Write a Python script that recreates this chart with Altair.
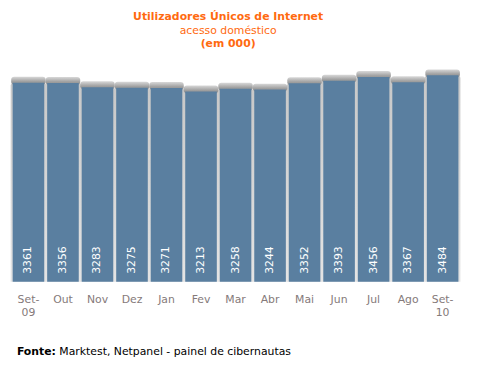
import altair as alt
import pandas as pd

months = ["Set-\n09", "Out", "Nov", "Dez", "Jan", "Fev", "Mar", "Abr", "Mai", "Jun", "Jul", "Ago", "Set-\n10"]
values = [3361, 3356, 3283, 3275, 3271, 3213, 3258, 3244, 3352, 3393, 3456, 3367, 3484]
title_main = "Utilizadores Únicos de Internet"
title_sub = "acesso doméstico"
title_unit = "(em 000)"
source_bold = "Fonte:"
source_text = "Marktest, Netpanel - painel de cibernautas"

df = pd.DataFrame({"m": months, "v": values})

FONT = "DejaVu Sans"
ORANGE = "#ff6a10"
BLUE = "#5a7fa0"

x = alt.X("m:N", sort=months, axis=None,
          scale=alt.Scale(paddingInner=0.084, paddingOuter=0.02))
y = alt.Y("v:Q", axis=None, scale=alt.Scale(domain=[0, 3600], nice=False))

base = alt.Chart(df)

side_grad = alt.LinearGradient(gradient="linear", x1=0, y1=0, x2=0, y2=1,
                               stops=[alt.GradientStop(offset=0, color="#c8c8c8"),
                                      alt.GradientStop(offset=1, color="#e4e4e4")])
top_grad = alt.LinearGradient(gradient="linear", x1=0, y1=0, x2=0, y2=1,
                              stops=[alt.GradientStop(offset=0, color="#d8d8d8"),
                                     alt.GradientStop(offset=0.6, color="#a0a0a0"),
                                     alt.GradientStop(offset=1, color="#8e8e8e")])

side = base.mark_bar(size=36, color=side_grad, cornerRadiusTopLeft=3, cornerRadiusTopRight=3).encode(
    x=x, y=y, y2=alt.datum(0))
top = base.mark_bar(size=35, color=top_grad, cornerRadius=3, yOffset=-6, y2Offset=2).encode(
    x=x, y=y, y2="v:Q")
bars = base.mark_bar(size=32, color=BLUE).encode(x=x, y=y, y2=alt.datum(0))

vals = base.mark_text(angle=270, align="left", baseline="middle", color="white",
                      font=FONT, fontSize=11, yOffset=-8).encode(
    x=x, y=alt.datum(0), text="v:Q")

xlab = base.mark_text(align="center", baseline="alphabetic", color="#857a7a",
                      font=FONT, fontSize=11, lineBreak="\n", lineHeight=13, yOffset=22).encode(
    x=x, y=alt.datum(0), text="m:N")

one = pd.DataFrame({"a": [0]})
tc = alt.Chart(one)
t1 = tc.mark_text(align="center", baseline="alphabetic", color=ORANGE, font=FONT,
                  fontSize=11, fontWeight="bold").encode(
    x=alt.value(219), y=alt.value(-49), text=alt.value(title_main))
t2 = tc.mark_text(align="center", baseline="alphabetic", color=ORANGE, font=FONT,
                  fontSize=11).encode(
    x=alt.value(219), y=alt.value(-35), text=alt.value(title_sub))
t3 = tc.mark_text(align="center", baseline="alphabetic", color=ORANGE, font=FONT,
                  fontSize=11, fontWeight="bold").encode(
    x=alt.value(219), y=alt.value(-22), text=alt.value(title_unit))
f1 = tc.mark_text(align="left", baseline="alphabetic", color="black", font=FONT,
                  fontSize=11, fontWeight="bold").encode(
    x=alt.value(5), y=alt.value(290), text=alt.value(source_bold))
f2 = tc.mark_text(align="left", baseline="alphabetic", color="black", font=FONT,
                  fontSize=11).encode(
    x=alt.value(48), y=alt.value(290), text=alt.value(source_text))

chart = alt.layer(side, top, bars, vals, xlab, t1, t2, t3, f1, f2).properties(
    width=453, height=216,
    padding={"left": 4, "top": 59, "right": 10, "bottom": 76},
    autosize="none",
    background="white",
).configure_view(stroke=None)

chart.save("out.html", embed_options={"renderer": "svg", "actions": False})
